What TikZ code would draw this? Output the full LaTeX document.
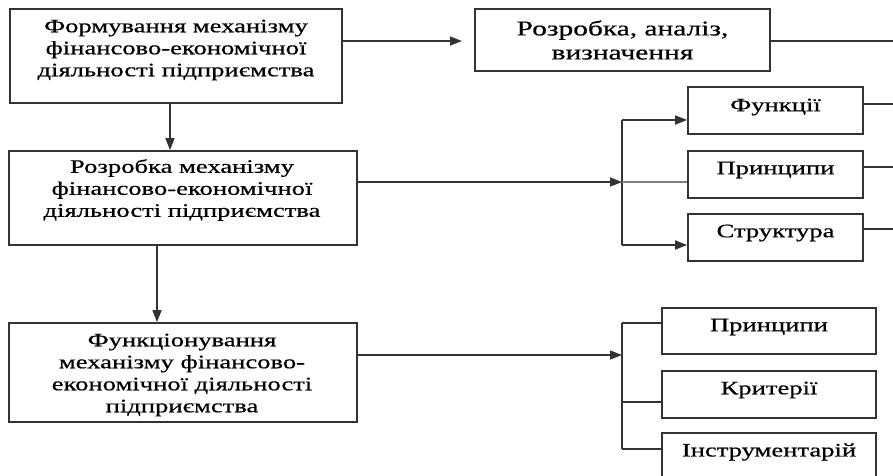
\documentclass[tikz,border=0pt]{standalone}
\usepackage{fontspec}
\setmainfont[FakeStretch=1.4,FakeBold=0.6]{Liberation Serif}
\usetikzlibrary{arrows.meta,calc}
\tikzset{
  box/.style={draw=black!80, line width=1.7pt, rectangle, inner sep=0pt},
  txt/.style={align=center, inner sep=0pt, font=\fontsize{19}{22}\selectfont},
  bigtxt/.style={align=center, inner sep=0pt, font=\fontsize{21}{24}\selectfont},
  conn/.style={draw=black!80, line width=1.6pt},
  arr/.style={conn, -{Triangle[length=12pt,width=9pt]}},
  thin/.style={draw=black!50, line width=1.6pt}
}
\begin{document}
\begin{tikzpicture}[x=1pt,y=-1pt]
\useasboundingbox (0,0) rectangle (893,475);
\clip (0,0) rectangle (893,475);
% boxes
\node[box, minimum width=332pt, minimum height=94pt] (A) at (176,56) {};
\node[txt] (At) at (176,50) {Формування механізму\\фінансово-економічної\\діяльності підприємства};
\node[box, minimum width=295pt, minimum height=62pt] (B) at (622.5,40) {};
\node[bigtxt] (Bt) at (622.5,40) {Розробка, аналіз,\\визначення};
\node[box, minimum width=348pt, minimum height=94pt] (C) at (183,198) {};
\node[txt] (Ct) at (182,190) {Розробка механізму\\фінансово-економічної\\діяльності підприємства};
\node[box, minimum width=348pt, minimum height=99pt] (D) at (183,372.5) {};
\node[txt] (Dt) at (182,375) {Функціонування\\механізму фінансово-\\економічної діяльності\\підприємства};
% right group 1
\node[box, minimum width=175pt, minimum height=47pt] (F1) at (775.5,110.5) {};
\node[txt] (F1t) at (775.5,107) {Функції};
\node[box, minimum width=175pt, minimum height=47pt] (F2) at (775.5,174.5) {};
\node[txt] (F2t) at (775.5,170) {Принципи};
\node[box, minimum width=175pt, minimum height=47pt] (F3) at (775.5,237.5) {};
\node[txt] (F3t) at (775.5,233) {Структура};
% right group 2
\node[box, minimum width=214pt, minimum height=46pt] (G1) at (769,331) {};
\node[txt] (G1t) at (769,327) {Принципи};
\node[box, minimum width=214pt, minimum height=47pt] (G2) at (769,394.5) {};
\node[txt] (G2t) at (769,390) {Критерії};
\node[box, minimum width=214pt, minimum height=47pt] (G3) at (769,456.5) {};
\node[txt] (G3t) at (769,452) {Інструментарій};
% junction coordinates
\coordinate (J1t) at (622,120);
\coordinate (J1m) at (622,182);
\coordinate (J1b) at (622,245);
\coordinate (J2t) at (622,323);
\coordinate (J2m) at (622,402);
\coordinate (J2b) at (622,449);
\coordinate (J2a) at (622,355);
\coordinate (Ein) at (462,41);
\coordinate (E0) at (893,41);
\coordinate (E1) at (893,104);
\coordinate (E2) at (893,167);
\coordinate (E3) at (893,229);
% connectors
\draw[arr] (A.east |- Ein) -- (Ein);
\draw[conn] (B.east |- E0) -- (E0);
\draw[arr] ([xshift=-6pt]A.south) -- ([xshift=-6pt]A.south |- C.north);
\draw[arr] ([xshift=-26pt]C.south) -- ([xshift=-26pt]C.south |- D.north);
\draw[arr] (C.east |- J1m) -- (J1m);
\draw[conn] (J1t) -- (J1b);
\draw[arr] (J1t) -- (J1t -| F1.west);
\draw[arr] (J1b) -- (J1b -| F3.west);
\draw[thin] (J1m) -- (J1m -| F2.west);
\draw[conn] (F1.east |- E1) -- (E1);
\draw[conn] (F2.east |- E2) -- (E2);
\draw[conn] (F3.east |- E3) -- (E3);
\draw[arr] (D.east |- J2a) -- (J2a);
\draw[conn] (J2t) -- (J2b);
\draw[conn] (J2t) -- (J2t -| G1.west);
\draw[conn] (J2m) -- (J2m -| G2.west);
\draw[conn] (J2b) -- (J2b -| G3.west);
\end{tikzpicture}
\end{document}
